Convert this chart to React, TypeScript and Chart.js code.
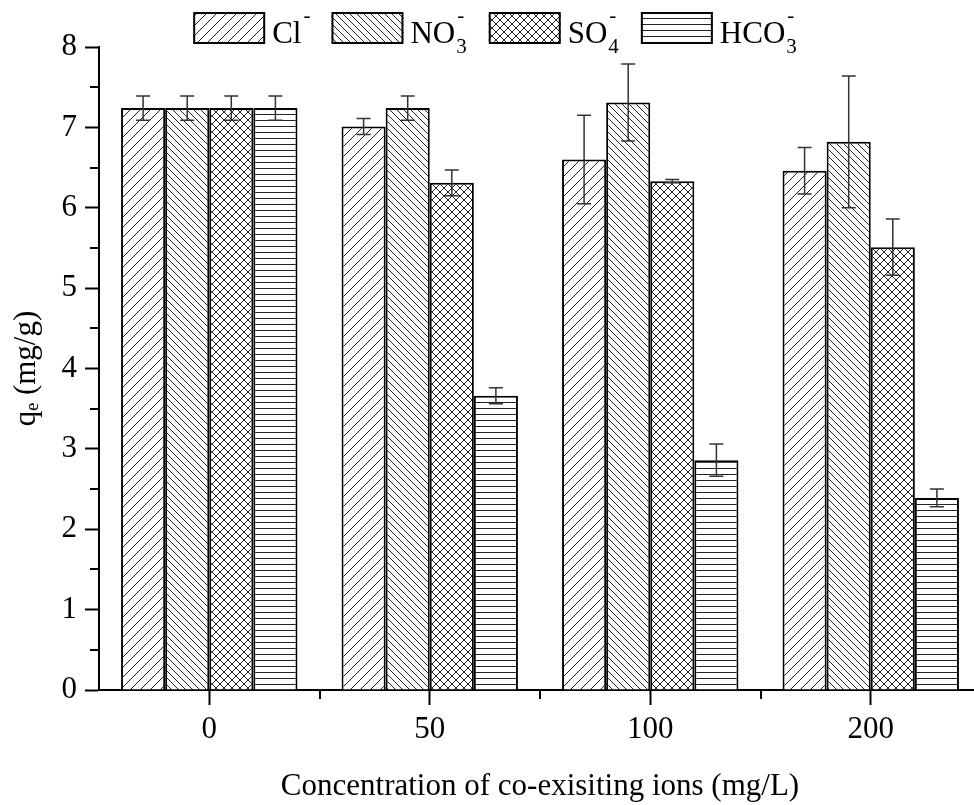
import React, { useEffect, useRef } from 'react';
import { Chart, registerables } from 'chart.js';

Chart.register(...registerables);

// ---- data ----
const categories = ['0', '50', '100', '200'];
const ionBase = ['Cl', 'NO', 'SO', 'HCO'];
const ionSub = ['', '3', '4', '3'];
const ionSup = ['-', '-', '-', '-'];

const clValues = [7.24, 7.01, 6.6, 6.46];
const clErrors = [0.15, 0.1, 0.55, 0.29];
const no3Values = [7.24, 7.24, 7.31, 6.82];
const no3Errors = [0.15, 0.15, 0.48, 0.82];
const so4Values = [7.24, 6.31, 6.33, 5.51];
const so4Errors = [0.15, 0.16, 0.02, 0.35];
const hco3Values = [7.24, 3.66, 2.86, 2.39];
const hco3Errors = [0.15, 0.1, 0.2, 0.11];

const yMin = 0;
const yMax = 8;
const yStep = 1;
const yMinorStep = 0.5;

const xTitle = 'Concentration of co-exisiting ions (mg/L)';
const yTitle = 'qₑ (mg/g)';

const FONT = "'Liberation Serif', 'Times New Roman', serif";

function makePattern(kind: string): CanvasPattern | string {
  const s = kind === 'fwd' ? 10 : kind === 'back' ? 7 : kind === 'cross' ? 8 : 6;
  const c = document.createElement('canvas');
  c.width = s;
  c.height = s;
  const g = c.getContext('2d');
  if (!g) return '#fff';
  g.fillStyle = '#fff';
  g.fillRect(0, 0, s, s);
  g.strokeStyle = '#222';
  g.lineWidth = 1;
  g.beginPath();
  if (kind === 'fwd' || kind === 'cross') {
    for (let k = -1; k <= 1; k++) {
      g.moveTo(k * s, s);
      g.lineTo(k * s + s, 0);
    }
  }
  if (kind === 'back' || kind === 'cross') {
    for (let k = -1; k <= 1; k++) {
      g.moveTo(k * s, 0);
      g.lineTo(k * s + s, s);
    }
  }
  if (kind === 'horiz') {
    g.moveTo(0, 0.5);
    g.lineTo(s, 0.5);
  }
  g.stroke();
  return g.createPattern(c, 'repeat') || '#fff';
}

const errorBarPlugin = {
  id: 'errorBars',
  afterDatasetsDraw(chart: any) {
    const ctx = chart.ctx;
    const y = chart.scales.y;
    chart.data.datasets.forEach((ds: any, i: number) => {
      const meta = chart.getDatasetMeta(i);
      meta.data.forEach((bar: any, j: number) => {
        const v = ds.data[j];
        const e = ds.errors[j];
        const x = bar.x;
        const top = y.getPixelForValue(v + e);
        const bot = y.getPixelForValue(v - e);
        ctx.save();
        ctx.strokeStyle = '#333';
        ctx.lineWidth = 1.5;
        ctx.beginPath();
        ctx.moveTo(x, top);
        ctx.lineTo(x, bot);
        ctx.moveTo(x - 7, top);
        ctx.lineTo(x + 7, top);
        ctx.moveTo(x - 7, bot);
        ctx.lineTo(x + 7, bot);
        ctx.stroke();
        ctx.restore();
      });
    });
  },
};

const minorTickPlugin = {
  id: 'minorTicks',
  afterDraw(chart: any) {
    const ctx = chart.ctx;
    const y = chart.scales.y;
    const x = chart.scales.x;
    const area = chart.chartArea;
    ctx.save();
    ctx.strokeStyle = '#000';
    ctx.lineWidth = 2;
    ctx.beginPath();
    for (let v = yMin + yMinorStep; v < yMax; v += yStep) {
      const py = Math.round(y.getPixelForValue(v));
      ctx.moveTo(area.left - 9, py);
      ctx.lineTo(area.left, py);
    }
    for (let k = 0; k < categories.length; k++) {
      const px = Math.round(x.getPixelForValue(k + 0.5));
      ctx.moveTo(px, area.bottom);
      ctx.lineTo(px, area.bottom + 9);
    }
    ctx.stroke();
    ctx.restore();
  },
};

const legendPlugin = {
  id: 'ionLegend',
  afterDraw(chart: any) {
    const ctx = chart.ctx;
    const boxW = 72;
    const boxH = 32;
    const boxTop = 12;
    const textGap = 7;
    const itemGap = 22;
    const bigFont = `31px ${FONT}`;
    const smallFont = `21px ${FONT}`;
    const widths: number[] = [];
    ctx.save();
    for (let i = 0; i < ionBase.length; i++) {
      ctx.font = bigFont;
      const wb = ctx.measureText(ionBase[i]).width;
      ctx.font = smallFont;
      const ws = ionSub[i] ? ctx.measureText(ionSub[i]).width : 0;
      const wp = ctx.measureText(ionSup[i]).width;
      widths.push(boxW + textGap + wb + Math.max(ws, wp) + 1);
    }
    const total = widths.reduce((a, b) => a + b, 0) + itemGap * (widths.length - 1);
    let cx = chart.width / 2 - 5 - total / 2;
    const baseY = boxTop + boxH - 1;
    chart.data.datasets.forEach((ds: any, i: number) => {
      ctx.fillStyle = ds.backgroundColor;
      ctx.fillRect(cx, boxTop, boxW, boxH);
      ctx.strokeStyle = '#000';
      ctx.lineWidth = 2;
      ctx.strokeRect(cx + 1, boxTop + 1, boxW - 2, boxH - 2);
      let tx = cx + boxW + textGap;
      ctx.fillStyle = '#000';
      ctx.textBaseline = 'alphabetic';
      ctx.textAlign = 'left';
      ctx.font = bigFont;
      ctx.fillText(ionBase[i], tx, baseY);
      tx += ctx.measureText(ionBase[i]).width + 1;
      ctx.font = smallFont;
      if (ionSub[i]) ctx.fillText(ionSub[i], tx, baseY + 10);
      ctx.fillText(ionSup[i], tx + 1, boxTop + 10);
      cx += widths[i] + itemGap;
    });
    ctx.restore();
  },
};

export default function App() {
  const ref = useRef<HTMLCanvasElement | null>(null);

  useEffect(() => {
    if (!ref.current) return;
    const patterns = ['fwd', 'back', 'cross', 'horiz'].map(makePattern);
    const series = [
      { values: clValues, errors: clErrors },
      { values: no3Values, errors: no3Errors },
      { values: so4Values, errors: so4Errors },
      { values: hco3Values, errors: hco3Errors },
    ];
    const chart = new Chart(ref.current, {
      type: 'bar',
      data: {
        labels: categories,
        datasets: series.map((s, i) => ({
          label: ionBase[i] + ionSub[i] + ionSup[i],
          data: s.values,
          errors: s.errors,
          backgroundColor: patterns[i],
          borderColor: '#000',
          borderWidth: 2,
          categoryPercentage: 0.8,
          barPercentage: 1.0,
        })) as any,
      },
      options: {
        responsive: false,
        animation: false,
        events: [],
        layout: { padding: { top: 47, left: 0, right: 19, bottom: 0 } },
        plugins: {
          legend: { display: false },
          tooltip: { enabled: false },
        },
        scales: {
          x: {
            type: 'category',
            offset: true,
            grid: {
              offset: false,
              drawOnChartArea: false,
              drawTicks: true,
              tickLength: 15,
              tickColor: '#000',
              tickWidth: 2,
            },
            border: { display: true, color: '#000', width: 2 },
            ticks: {
              color: '#000',
              font: { family: FONT, size: 31 },
              padding: 6,
              maxRotation: 0,
            },
            title: {
              display: true,
              text: xTitle,
              color: '#000',
              font: { family: FONT, size: 31 },
              padding: { top: 0, bottom: 0 },
            },
            afterFit: (s: any) => {
              s.height = 115;
            },
          },
          y: {
            min: yMin,
            max: yMax,
            grid: {
              drawOnChartArea: false,
              drawTicks: true,
              tickLength: 14,
              tickColor: '#000',
              tickWidth: 2,
            },
            border: { display: true, color: '#000', width: 2 },
            ticks: {
              stepSize: yStep,
              color: '#000',
              font: { family: FONT, size: 31 },
              padding: 8,
            },
            title: {
              display: true,
              text: yTitle,
              color: '#000',
              font: { family: FONT, size: 31 },
              padding: { top: 8, bottom: 0 },
            },
            afterFit: (s: any) => {
              s.width = 99;
            },
          },
        },
      } as any,
      plugins: [errorBarPlugin, minorTickPlugin, legendPlugin],
    });
    return () => chart.destroy();
  }, []);

  return (
    <div
      style={{
        position: 'fixed',
        left: 0,
        top: 0,
        width: 974,
        height: 805,
        overflow: 'hidden',
        background: '#fff',
      }}
    >
      <canvas ref={ref} width={1000} height={805} style={{ display: 'block' }} />
    </div>
  );
}
